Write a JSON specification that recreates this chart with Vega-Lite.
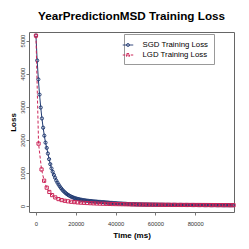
{
"$schema": "https://vega.github.io/schema/vega-lite/v6.json",
"width": 205, "height": 180,
"autosize": {"type": "none"},
"padding": {"left": 29, "top": 32, "right": 15, "bottom": 37},
"background": "white",
"title": {"text": "YearPredictionMSD Training Loss", "font": "Liberation Sans", "fontSize": 11.7, "fontWeight": "bold", "color": "#000", "anchor": "middle", "baseline": "alphabetic", "offset": 0},
"config": {"view": {"stroke": "#666", "strokeWidth": 1}},
"data": {"values": [
{"s":"SGD","t":0,"v":5150},{"s":"SGD","t":600,"v":4400},{"s":"SGD","t":1200,"v":3830},{"s":"SGD","t":1800,"v":3370},{"s":"SGD","t":2400,"v":2980},{"s":"SGD","t":3000,"v":2650},{"s":"SGD","t":3600,"v":2370},{"s":"SGD","t":4200,"v":2130},{"s":"SGD","t":4800,"v":1920},{"s":"SGD","t":5400,"v":1760},
{"s":"SGD","t":6000,"v":1590},{"s":"SGD","t":6600,"v":1420},{"s":"SGD","t":7200,"v":1270},{"s":"SGD","t":7800,"v":1140},{"s":"SGD","t":8400,"v":1040},{"s":"SGD","t":9000,"v":945},{"s":"SGD","t":9600,"v":860},{"s":"SGD","t":10200,"v":775},{"s":"SGD","t":10800,"v":710},{"s":"SGD","t":11400,"v":650},
{"s":"SGD","t":12000,"v":595},{"s":"SGD","t":12600,"v":545},{"s":"SGD","t":13200,"v":500},{"s":"SGD","t":13800,"v":460},{"s":"SGD","t":14400,"v":425},{"s":"SGD","t":15000,"v":392},{"s":"SGD","t":15600,"v":364},{"s":"SGD","t":16200,"v":339},{"s":"SGD","t":16800,"v":317},{"s":"SGD","t":17400,"v":297},
{"s":"SGD","t":18000,"v":280},{"s":"SGD","t":18600,"v":265},{"s":"SGD","t":19200,"v":251},{"s":"SGD","t":19800,"v":239},{"s":"SGD","t":20400,"v":228},{"s":"SGD","t":21000,"v":218},{"s":"SGD","t":21600,"v":209},{"s":"SGD","t":22200,"v":201},{"s":"SGD","t":22800,"v":194},{"s":"SGD","t":23400,"v":187},
{"s":"SGD","t":24000,"v":181},{"s":"SGD","t":24600,"v":175},{"s":"SGD","t":25200,"v":170},{"s":"SGD","t":25800,"v":165},{"s":"SGD","t":26400,"v":161},{"s":"SGD","t":27000,"v":157},{"s":"SGD","t":27600,"v":153},{"s":"SGD","t":28200,"v":149},{"s":"SGD","t":28800,"v":146},{"s":"SGD","t":29400,"v":142},
{"s":"SGD","t":30000,"v":139},{"s":"SGD","t":30600,"v":136},{"s":"SGD","t":31200,"v":133},{"s":"SGD","t":31800,"v":130},{"s":"SGD","t":32400,"v":127},{"s":"SGD","t":33000,"v":124},{"s":"SGD","t":33600,"v":121},{"s":"SGD","t":34200,"v":118},{"s":"SGD","t":34800,"v":115},{"s":"SGD","t":35400,"v":112},
{"s":"SGD","t":36000,"v":109},{"s":"SGD","t":36600,"v":106},{"s":"SGD","t":37200,"v":103},{"s":"SGD","t":37800,"v":100},{"s":"SGD","t":38400,"v":97},{"s":"SGD","t":39000,"v":94},{"s":"SGD","t":39600,"v":91},{"s":"SGD","t":40200,"v":88},{"s":"SGD","t":40800,"v":85},{"s":"SGD","t":41400,"v":83},
{"s":"SGD","t":42000,"v":81},{"s":"SGD","t":42600,"v":79},{"s":"SGD","t":43200,"v":77},{"s":"SGD","t":43800,"v":75},{"s":"SGD","t":44400,"v":73},{"s":"SGD","t":45000,"v":71},{"s":"SGD","t":45600,"v":69},{"s":"SGD","t":46200,"v":67},{"s":"SGD","t":46800,"v":65},{"s":"SGD","t":47400,"v":63},
{"s":"SGD","t":48000,"v":61},{"s":"SGD","t":48600,"v":60},{"s":"SGD","t":49200,"v":59},{"s":"SGD","t":49800,"v":58},{"s":"SGD","t":50400,"v":57},{"s":"SGD","t":51000,"v":56},{"s":"SGD","t":51600,"v":55},{"s":"SGD","t":52200,"v":54},{"s":"SGD","t":52800,"v":53},{"s":"SGD","t":53400,"v":52},
{"s":"SGD","t":54000,"v":51},{"s":"SGD","t":54600,"v":50.5},{"s":"SGD","t":55200,"v":50},{"s":"SGD","t":55800,"v":49.5},{"s":"SGD","t":56400,"v":49},{"s":"SGD","t":57000,"v":48.5},{"s":"SGD","t":57600,"v":48},{"s":"SGD","t":58200,"v":47.5},{"s":"SGD","t":58800,"v":47},{"s":"SGD","t":59400,"v":46.5},
{"s":"SGD","t":60000,"v":46},{"s":"SGD","t":60600,"v":45.5},{"s":"SGD","t":61200,"v":45},{"s":"SGD","t":61800,"v":44.5},{"s":"SGD","t":62400,"v":44},{"s":"SGD","t":63000,"v":43.6},{"s":"SGD","t":63600,"v":43.2},{"s":"SGD","t":64200,"v":42.8},{"s":"SGD","t":64800,"v":42.4},{"s":"SGD","t":65400,"v":42},
{"s":"SGD","t":66000,"v":41.6},{"s":"SGD","t":66600,"v":41.2},{"s":"SGD","t":67200,"v":40.8},{"s":"SGD","t":67800,"v":40.4},{"s":"SGD","t":68400,"v":40},{"s":"SGD","t":69000,"v":39.7},{"s":"SGD","t":69600,"v":39.4},{"s":"SGD","t":70200,"v":39.1},{"s":"SGD","t":70800,"v":38.8},{"s":"SGD","t":71400,"v":38.5},
{"s":"SGD","t":72000,"v":38.2},{"s":"SGD","t":72600,"v":37.9},{"s":"SGD","t":73200,"v":37.6},{"s":"SGD","t":73800,"v":37.3},{"s":"SGD","t":74400,"v":37},{"s":"SGD","t":75000,"v":36.8},{"s":"SGD","t":75600,"v":36.6},{"s":"SGD","t":76200,"v":36.4},{"s":"SGD","t":76800,"v":36.2},{"s":"SGD","t":77400,"v":36},
{"s":"SGD","t":78000,"v":35.8},{"s":"SGD","t":78600,"v":35.6},{"s":"SGD","t":79200,"v":35.4},{"s":"SGD","t":79800,"v":35.2},{"s":"SGD","t":80400,"v":35},{"s":"SGD","t":81000,"v":34.8},{"s":"SGD","t":81600,"v":34.6},{"s":"SGD","t":82200,"v":34.4},{"s":"SGD","t":82800,"v":34.2},{"s":"SGD","t":83400,"v":34},
{"s":"SGD","t":84000,"v":33.8},{"s":"SGD","t":84600,"v":33.6},{"s":"SGD","t":85200,"v":33.4},{"s":"SGD","t":85800,"v":33.2},{"s":"SGD","t":86400,"v":33},{"s":"SGD","t":87000,"v":32.8},{"s":"SGD","t":87600,"v":32.6},{"s":"SGD","t":88200,"v":32.4},{"s":"SGD","t":88800,"v":32.2},{"s":"SGD","t":89400,"v":32},
{"s":"SGD","t":90000,"v":31.8},{"s":"SGD","t":90600,"v":31.6},{"s":"SGD","t":91200,"v":31.4},{"s":"SGD","t":91800,"v":31.2},{"s":"SGD","t":92400,"v":31},{"s":"SGD","t":93000,"v":30.8},{"s":"SGD","t":93600,"v":30.6},{"s":"SGD","t":94200,"v":30.4},{"s":"SGD","t":94800,"v":30.2},{"s":"SGD","t":95400,"v":30},
{"s":"SGD","t":96000,"v":29.8},{"s":"SGD","t":96600,"v":29.6},{"s":"SGD","t":97200,"v":29.4},{"s":"SGD","t":97800,"v":29.2},{"s":"SGD","t":98400,"v":29},{"s":"SGD","t":99000,"v":28.8},
{"s":"LGD","t":0,"v":5150},{"s":"LGD","t":1300,"v":1890},{"s":"LGD","t":2800,"v":1110},{"s":"LGD","t":4100,"v":770},{"s":"LGD","t":5400,"v":560},{"s":"LGD","t":6700,"v":430},{"s":"LGD","t":8100,"v":335},{"s":"LGD","t":9700,"v":265},{"s":"LGD","t":11300,"v":215},{"s":"LGD","t":12900,"v":185},
{"s":"LGD","t":14500,"v":163},{"s":"LGD","t":16100,"v":147},{"s":"LGD","t":17700,"v":134},{"s":"LGD","t":19300,"v":124},{"s":"LGD","t":20900,"v":115},{"s":"LGD","t":22500,"v":108},{"s":"LGD","t":24100,"v":102},{"s":"LGD","t":25700,"v":96},{"s":"LGD","t":27300,"v":91},{"s":"LGD","t":28900,"v":86},
{"s":"LGD","t":30500,"v":82},{"s":"LGD","t":32100,"v":78},{"s":"LGD","t":33700,"v":75},{"s":"LGD","t":35300,"v":72},{"s":"LGD","t":36900,"v":69},{"s":"LGD","t":38500,"v":66},{"s":"LGD","t":40100,"v":64},{"s":"LGD","t":41700,"v":62},{"s":"LGD","t":43300,"v":60},{"s":"LGD","t":44900,"v":58},
{"s":"LGD","t":46500,"v":56},{"s":"LGD","t":48100,"v":54},{"s":"LGD","t":49700,"v":52},{"s":"LGD","t":51300,"v":51},{"s":"LGD","t":52900,"v":50},{"s":"LGD","t":54500,"v":49},{"s":"LGD","t":56100,"v":48},{"s":"LGD","t":57700,"v":47},{"s":"LGD","t":59300,"v":46},{"s":"LGD","t":60900,"v":45},
{"s":"LGD","t":62500,"v":44},{"s":"LGD","t":64100,"v":43},{"s":"LGD","t":65700,"v":42},{"s":"LGD","t":67300,"v":41.5},{"s":"LGD","t":68900,"v":41},{"s":"LGD","t":70500,"v":40},{"s":"LGD","t":72100,"v":39.5},{"s":"LGD","t":73700,"v":39},{"s":"LGD","t":75300,"v":38.5},{"s":"LGD","t":76900,"v":38},
{"s":"LGD","t":78500,"v":37.5},{"s":"LGD","t":80100,"v":37},{"s":"LGD","t":81700,"v":36.5},{"s":"LGD","t":83300,"v":36},{"s":"LGD","t":84900,"v":35.5},{"s":"LGD","t":86500,"v":35},{"s":"LGD","t":88100,"v":34.5},{"s":"LGD","t":89700,"v":34},{"s":"LGD","t":91300,"v":33.5},{"s":"LGD","t":92900,"v":33},
{"s":"LGD","t":94500,"v":32.5},{"s":"LGD","t":96100,"v":32},{"s":"LGD","t":97700,"v":31.5},{"s":"LGD","t":99300,"v":31}
]},
"encoding": {
  "x": {"field": "t", "type": "quantitative",
        "scale": {"domain": [-3500, 99500], "nice": false, "zero": false},
        "axis": {"title": "Time (ms)", "values": [0, 20000, 40000, 60000, 80000], "format": "d", "grid": false, "domain": false,
                 "tickColor": "#777", "tickSize": 3, "tickWidth": 1, "labelFont": "Liberation Sans", "labelFontSize": 5.8, "labelColor": "#333", "labelPadding": 5,
                 "titleFont": "Liberation Sans", "titleFontSize": 8, "titleFontWeight": "bold", "titleColor": "#000", "titlePadding": 6}},
  "y": {"field": "v", "type": "quantitative",
        "scale": {"domain": [-175, 5260], "nice": false, "zero": false},
        "axis": {"title": "Loss", "values": [0, 1000, 2000, 3000, 4000, 5000], "format": "d", "grid": false, "domain": false,
                 "tickColor": "#777", "tickSize": 3, "tickWidth": 1, "labelFont": "Liberation Sans", "labelFontSize": 5.8, "labelColor": "#333",
                 "labelAngle": -90, "labelAlign": "center", "labelBaseline": "bottom", "labelPadding": 1,
                 "titleFont": "Liberation Sans", "titleFontSize": 8, "titleFontWeight": "bold", "titleColor": "#000", "titlePadding": 2}}
},
"layer": [
  {"transform": [{"filter": "datum.s === 'SGD'"}], "mark": {"type": "line", "strokeWidth": 1, "color": "#233c73"}},
  {"transform": [{"filter": "datum.s === 'SGD'"}], "mark": {"type": "point", "shape": "circle", "filled": false, "size": 10, "strokeWidth": 1, "color": "#233c73", "opacity": 1}},
  {"transform": [{"filter": "datum.s === 'LGD'"}], "mark": {"type": "line", "strokeWidth": 1, "strokeDash": [3, 2], "color": "#cc2659"}},
  {"transform": [{"filter": "datum.s === 'LGD'"}], "mark": {"type": "point", "shape": "square", "filled": false, "size": 10, "strokeWidth": 1, "color": "#cc2659", "opacity": 1}},
  {"transform": [{"filter": "false"}],
   "mark": {"type": "point", "filled": false, "strokeWidth": 1, "opacity": 1},
   "encoding": {
     "color": {"field": "s", "type": "nominal", "scale": {"domain": ["SGD", "LGD"], "range": ["#233c73", "#cc2659"]},
               "legend": {"title": null, "orient": "none", "legendX": 95, "legendY": 2, "padding": 5, "strokeColor": "#999", "fillColor": "white",
                          "labelFont": "Liberation Sans", "labelFontSize": 7.8, "labelColor": "#000", "labelOffset": 8.5, "symbolOffset": -7, "symbolSize": 110, "symbolStrokeWidth": 1, "rowPadding": -1,
                          "labelExpr": "datum.label + ' Training Loss'"}},
     "shape": {"field": "s", "type": "nominal", "scale": {"domain": ["SGD", "LGD"], "range": ["M-1,0H1M0.3,0L0.21,0.21L0,0.3L-0.21,0.21L-0.3,0L-0.21,-0.21L0,-0.3L0.21,-0.21Z", "M-1,0H1M-0.27,-0.27H0.27V0.27H-0.27Z"]}},
     "strokeDash": {"field": "s", "type": "nominal", "scale": {"domain": ["SGD", "LGD"], "range": [[1, 0], [2.5, 1.5]]}}
   }}
]
}
